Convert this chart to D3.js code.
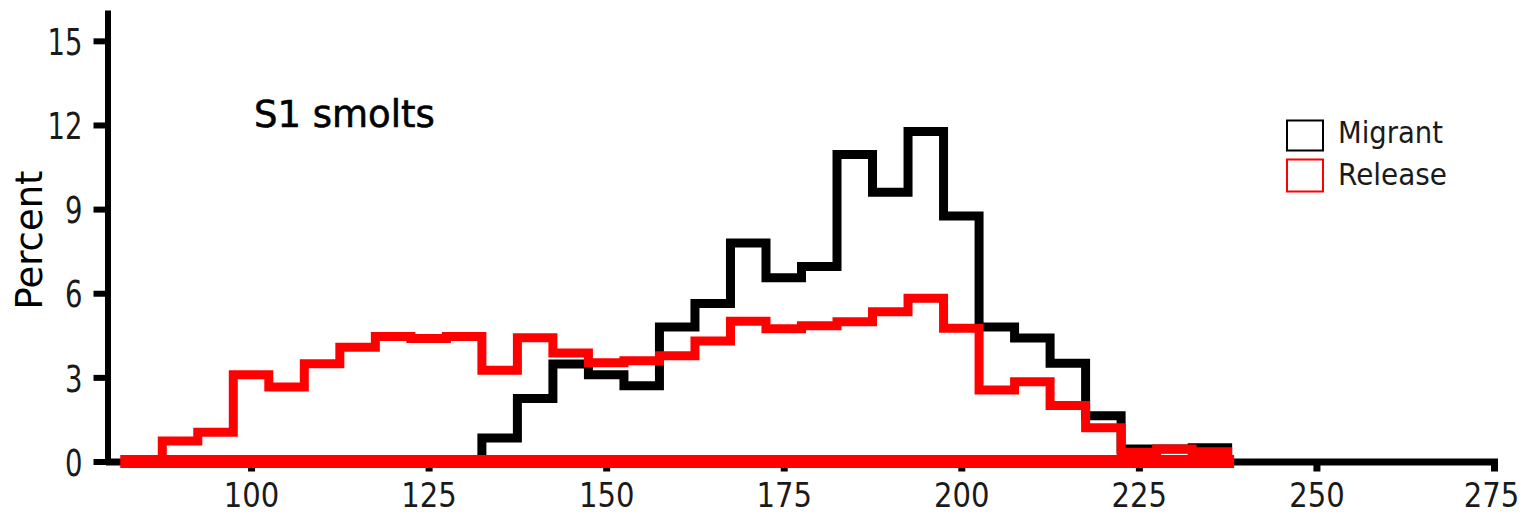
<!DOCTYPE html>
<html>
<head>
<meta charset="utf-8">
<script src="https://cdn.jsdelivr.net/npm/d3@7/dist/d3.min.js"></script>
<style>
body { margin: 0; background: #fff; }
text { font-family: "DejaVu Sans", Verdana, sans-serif; }
</style>
</head>
<body>
<script>
//histogram bins: 5 mm wide, first bin starts at 82.5
var binStart = 82.5,
    binWidth = 5;

//percent per bin
var migrant = [0, 0, 0, 0, 0, 0, 0, 0, 0, 0,
    0.84, 2.25, 3.48, 3.09, 2.7, 4.8, 5.63, 7.79, 6.55, 6.95,
    10.95, 9.6, 11.77, 8.75, 4.8, 4.4, 3.5, 1.63, 0.45, 0.45, 0.49];
var release = [0, 0.73, 1.04, 3.09, 2.66, 3.49, 4.07, 4.46, 4.39, 4.46,
    3.25, 4.41, 3.87, 3.52, 3.59, 3.77, 4.3, 5.0, 4.73, 4.84,
    4.98, 5.34, 5.82, 4.75, 2.55, 2.84, 2.0, 1.2, 0.33, 0.45, 0.35];

var xTicks = [100, 125, 150, 175, 200, 225, 250, 275];
var yTicks = [0, 3, 6, 9, 12, 15];
var seriesNames = ["Migrant", "Release"];
var seriesColors = ["#000000", "#ff0000"];
var panelTitle = "S1 smolts";
var yTitle = "Percent";

var width = 1529,
    height = 516;

var svg = d3.select("body")
    .append("svg")
    .attr("width", width)
    .attr("height", height);

var x = d3.scaleLinear().domain([80, 275]).range([109, 1494]);
var y = d3.scaleLinear().domain([0, 16.1]).range([461.5, 10]);

//y axis
var yAxis = svg.append("g")
    .attr("transform", "translate(" + 107.5 + ",0)")
    .call(d3.axisLeft(y).tickValues(yTicks).tickSize(14).tickSizeOuter(0).tickPadding(11));
yAxis.select(".domain").attr("stroke-width", 6);
yAxis.selectAll(".tick line").attr("stroke-width", 6);
yAxis.selectAll(".tick text")
    .attr("font-size", 38)
    .attr("fill", "#1a1a1a")
    .attr("font-family", "DejaVu Sans")
    .attr("dy", "0.36em")
    .attr("textLength", function(d){ return String(d).length * 17.5; })
    .attr("lengthAdjust", "spacingAndGlyphs");

//x axis
var xAxis = svg.append("g")
    .attr("transform", "translate(0," + y(0) + ")")
    .call(d3.axisBottom(x).tickValues(xTicks).tickSize(10).tickSizeOuter(0).tickPadding(0));
xAxis.select(".domain").attr("stroke-width", 7).attr("stroke-linecap", "square");
xAxis.selectAll(".tick line").attr("stroke-width", 7);
xAxis.selectAll(".tick text")
    .attr("font-size", 34)
    .attr("fill", "#1a1a1a")
    .attr("font-family", "DejaVu Sans")
    .attr("y", 45.5)
    .attr("dy", 0)
    .attr("textLength", function(d){ return String(d).length * 18.5; })
    .attr("lengthAdjust", "spacingAndGlyphs");
//last label sits a little left of its tick, as in the original
xAxis.selectAll(".tick text").filter(function(d){ return d == 275; })
    .attr("x", -3);

//turn bin values into step outline points
function stepPoints(vals){
    var pts = vals.map(function(v, i){ return [binStart + i * binWidth, v]; });
    pts.push([binStart + vals.length * binWidth, 0]);
    pts.push([binStart, 0]);
    return pts;
}

var line = d3.line()
    .x(function(d){ return x(d[0]); })
    .y(function(d){ return y(d[1]); })
    .curve(d3.curveStepAfter);

[migrant, release].forEach(function(vals, i){
    svg.append("path")
        .datum(stepPoints(vals))
        .attr("class", "hist " + seriesNames[i])
        .attr("fill", "none")
        .attr("stroke", seriesColors[i])
        .attr("stroke-width", 9)
        .attr("stroke-linejoin", "miter")
        .attr("d", line);
});

//thick red baseline under the release outline
svg.append("line")
    .attr("x1", x(binStart))
    .attr("x2", x(binStart + release.length * binWidth))
    .attr("y1", y(0))
    .attr("y2", y(0))
    .attr("stroke", seriesColors[1])
    .attr("stroke-width", 13)
    .attr("stroke-linecap", "square");

//titles
svg.append("text")
    .attr("x", 254)
    .attr("y", 127)
    .attr("font-size", 37)
    .attr("fill", "#000")
    .attr("stroke", "#000")
    .attr("stroke-width", 0.6)
    .text(panelTitle);

svg.append("text")
    .attr("transform", "translate(42,240) rotate(-90)")
    .attr("text-anchor", "middle")
    .attr("font-size", 37)
    .attr("fill", "#000")
    .text(yTitle);

//legend
var legend = svg.append("g").attr("class", "legend");
seriesNames.forEach(function(name, i){
    legend.append("rect")
        .attr("x", 1287)
        .attr("y", 120.5 + i * 39)
        .attr("width", 36)
        .attr("height", 30 + i * 2)
        .attr("fill", "none")
        .attr("stroke", seriesColors[i])
        .attr("stroke-width", 2);
    legend.append("text")
        .attr("x", 1338)
        .attr("y", 143 + i * 42)
        .attr("font-size", 31)
        .attr("fill", "#1a1a1a")
        .attr("textLength", i == 0 ? 105 : 109)
        .attr("lengthAdjust", "spacingAndGlyphs")
        .text(name);
});
</script>
</body>
</html>
